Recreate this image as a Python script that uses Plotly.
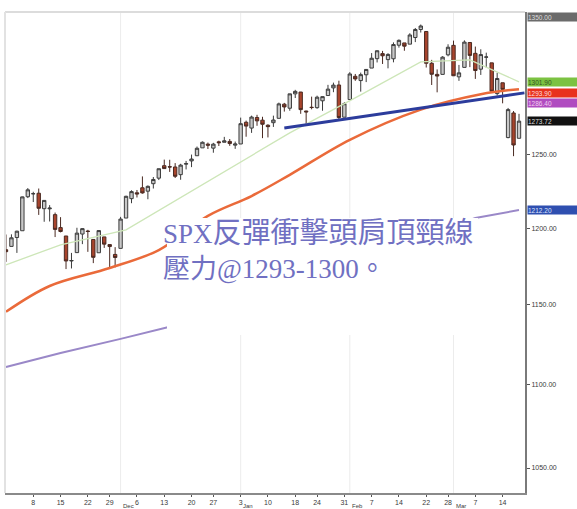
import math
import plotly.graph_objects as go

# ---------------- data ----------------
dates = [
    "2010-11-01", "2010-11-02", "2010-11-03", "2010-11-04", "2010-11-05",
    "2010-11-08", "2010-11-09", "2010-11-10", "2010-11-11", "2010-11-12",
    "2010-11-15", "2010-11-16", "2010-11-17", "2010-11-18", "2010-11-19",
    "2010-11-22", "2010-11-23", "2010-11-24", "2010-11-26", "2010-11-29",
    "2010-11-30", "2010-12-01", "2010-12-02", "2010-12-03", "2010-12-06",
    "2010-12-07", "2010-12-08", "2010-12-09", "2010-12-10", "2010-12-13",
    "2010-12-14", "2010-12-15", "2010-12-16", "2010-12-17", "2010-12-20",
    "2010-12-21", "2010-12-22", "2010-12-23", "2010-12-27", "2010-12-28",
    "2010-12-29", "2010-12-30", "2010-12-31", "2011-01-03", "2011-01-04",
    "2011-01-05", "2011-01-06", "2011-01-07", "2011-01-10", "2011-01-11",
    "2011-01-12", "2011-01-13", "2011-01-14", "2011-01-18", "2011-01-19",
    "2011-01-20", "2011-01-21", "2011-01-24", "2011-01-25", "2011-01-26",
    "2011-01-27", "2011-01-28", "2011-01-31", "2011-02-01", "2011-02-02",
    "2011-02-03", "2011-02-04", "2011-02-07", "2011-02-08", "2011-02-09",
    "2011-02-10", "2011-02-11", "2011-02-14", "2011-02-15", "2011-02-16",
    "2011-02-17", "2011-02-18", "2011-02-22", "2011-02-23", "2011-02-24",
    "2011-02-25", "2011-02-28", "2011-03-01", "2011-03-02", "2011-03-03",
    "2011-03-04", "2011-03-07", "2011-03-08", "2011-03-09", "2011-03-10",
    "2011-03-11", "2011-03-14", "2011-03-15", "2011-03-16", "2011-03-17",
]
opens = [
    1185.7, 1187.9, 1193.8, 1198.3, 1221.2,
    1223.2, 1223.6, 1213.1, 1213.0, 1209.1,
    1200.4, 1194.8, 1178.3, 1183.8, 1196.1,
    1198.1, 1192.5, 1183.7, 1194.2, 1189.1,
    1182.6, 1186.6, 1206.8, 1219.9, 1223.9,
    1227.3, 1225.0, 1230.1, 1233.9, 1242.5,
    1241.8, 1241.6, 1236.3, 1243.6, 1245.8,
    1249.4, 1254.9, 1257.5, 1254.7, 1259.1,
    1258.8, 1259.4, 1256.8, 1257.6, 1272.9,
    1268.8, 1276.3, 1274.4, 1270.8, 1272.6,
    1275.7, 1285.8, 1282.9, 1293.2, 1294.5,
    1280.9, 1283.6, 1283.3, 1288.2, 1292.0,
    1297.5, 1299.6, 1276.5, 1289.1, 1305.9,
    1302.8, 1307.0, 1311.9, 1318.8, 1322.5,
    1318.1, 1318.7, 1328.7, 1330.4, 1329.5,
    1334.4, 1340.4, 1338.9, 1315.4, 1307.3,
    1307.3, 1321.6, 1328.6, 1305.5, 1312.4,
    1330.7, 1322.7, 1311.1, 1319.9, 1315.7,
    1293.4, 1301.2, 1262.1, 1279.5, 1261.6,
]
highs = [
    1195.8, 1195.9, 1198.3, 1221.3, 1227.1,
    1224.6, 1226.8, 1218.8, 1215.5, 1210.5,
    1207.4, 1194.8, 1183.6, 1200.3, 1200.0,
    1198.9, 1192.5, 1198.6, 1194.2, 1189.1,
    1187.4, 1207.6, 1221.9, 1225.6, 1225.8,
    1235.1, 1228.9, 1234.7, 1240.4, 1246.7,
    1246.6, 1244.3, 1243.8, 1245.8, 1250.2,
    1255.8, 1259.4, 1258.6, 1258.4, 1259.9,
    1262.6, 1261.1, 1259.3, 1276.2, 1274.1,
    1277.6, 1278.2, 1276.8, 1271.5, 1277.6,
    1286.9, 1286.7, 1293.2, 1296.1, 1294.6,
    1281.1, 1291.2, 1291.9, 1291.3, 1299.7,
    1301.3, 1302.7, 1287.2, 1308.9, 1307.6,
    1308.6, 1311.0, 1322.9, 1324.9, 1324.5,
    1322.8, 1330.8, 1333.0, 1330.4, 1337.6,
    1341.5, 1344.1, 1338.9, 1317.9, 1310.9,
    1320.6, 1329.4, 1332.1, 1314.2, 1332.3,
    1331.1, 1327.7, 1325.7, 1323.2, 1315.7,
    1308.4, 1301.2, 1283.1, 1280.9, 1278.9,
]
lows = [
    1177.7, 1187.9, 1183.6, 1198.3, 1220.3,
    1217.6, 1208.9, 1204.3, 1204.5, 1194.1,
    1197.2, 1173.0, 1173.4, 1183.8, 1189.4,
    1184.3, 1176.9, 1183.7, 1186.9, 1173.6,
    1174.1, 1186.6, 1206.8, 1216.8, 1220.7,
    1223.3, 1219.5, 1226.8, 1232.6, 1240.3,
    1238.2, 1234.0, 1232.8, 1239.9, 1241.5,
    1249.4, 1254.9, 1254.1, 1251.5, 1256.2,
    1258.8, 1256.3, 1254.2, 1257.6, 1262.7,
    1265.4, 1270.4, 1261.7, 1262.2, 1269.6,
    1275.7, 1280.5, 1281.1, 1290.2, 1278.9,
    1271.3, 1282.1, 1282.5, 1281.1, 1292.0,
    1294.4, 1275.1, 1276.5, 1289.1, 1302.6,
    1294.8, 1301.7, 1311.9, 1316.0, 1314.9,
    1311.7, 1316.1, 1326.9, 1324.6, 1329.5,
    1331.0, 1338.1, 1312.3, 1299.6, 1294.3,
    1307.3, 1320.5, 1306.1, 1302.6, 1312.4,
    1312.6, 1304.0, 1306.9, 1312.3, 1294.2,
    1292.0, 1286.4, 1261.6, 1249.1, 1261.6,
]
closes = [
    1184.4, 1193.6, 1198.0, 1221.1, 1225.9,
    1223.3, 1213.4, 1218.7, 1213.5, 1199.2,
    1197.8, 1178.3, 1178.6, 1196.7, 1199.7,
    1197.8, 1180.7, 1198.4, 1189.4, 1187.8,
    1180.6, 1206.1, 1221.5, 1224.7, 1223.1,
    1223.8, 1228.3, 1233.0, 1240.4, 1240.5,
    1241.6, 1235.2, 1242.9, 1243.9, 1247.1,
    1254.6, 1258.8, 1256.8, 1257.5, 1258.5,
    1259.8, 1257.9, 1257.6, 1271.9, 1270.2,
    1276.6, 1273.9, 1271.5, 1269.8, 1274.5,
    1286.0, 1283.8, 1293.2, 1295.0, 1281.9,
    1280.3, 1283.4, 1290.8, 1291.2, 1296.6,
    1299.5, 1276.3, 1286.1, 1307.6, 1304.0,
    1307.1, 1310.9, 1319.1, 1324.6, 1320.9,
    1321.9, 1329.2, 1332.3, 1328.0, 1336.3,
    1340.4, 1343.0, 1315.4, 1307.4, 1306.1,
    1319.9, 1327.2, 1306.3, 1308.4, 1331.0,
    1321.2, 1310.1, 1321.8, 1320.0, 1295.1,
    1304.3, 1296.4, 1281.9, 1256.9, 1273.7,
]

ma20_dates = ["2010-11-01", "2010-11-15", "2010-12-02", "2010-12-22", "2011-01-14",
              "2011-02-03", "2011-02-18", "2011-03-04", "2011-03-17"]
ma20_values = [1175.8, 1188.9, 1198.9, 1229.3, 1265.4, 1292.5, 1316.4, 1317.9, 1301.9]

ma50_dates = ["2010-11-01", "2010-11-11", "2010-11-29", "2010-12-10", "2010-12-23",
              "2011-01-05", "2011-01-14", "2011-02-01", "2011-02-18", "2011-03-08",
              "2011-03-17"]
ma50_values = [1145.4, 1162.0, 1173.7, 1185.5, 1208.3, 1221.7, 1236.2, 1260.5,
               1281.9, 1292.9, 1296.6]

ma200_dates = ["2010-11-01", "2010-11-15", "2010-12-01", "2010-12-14", "2011-01-14",
               "2011-02-10", "2011-03-07", "2011-03-17"]
ma200_values = [1110.8, 1119.5, 1128.3, 1135.9, 1162.0, 1185.0, 1206.9, 1212.2]

neck_dates = ["2011-01-13", "2011-03-18"]
neck_values = [1268.9, 1293.9]

tag_values = [1350.0, 1301.9, 1293.9, 1286.4, 1273.72, 1212.2]
tag_colors = ["#6b6b6b", "#7cc242", "#e8321e", "#b04cc0", "#111111", "#2f4fb0"]
tag_text_colors = ["#dddddd", "#335522", "#ffdddd", "#f0d0f0", "#dddddd", "#dde4ff"]

y_tick_values = [1050, 1100, 1150, 1200, 1250]
y_tick_labels = ["1050.00", "1100.00", "1150.00", "1200.00", "1250.00"]

x_tick_dates = ["2010-11-08", "2010-11-15", "2010-11-22", "2010-11-29", "2010-12-06",
                "2010-12-13", "2010-12-20", "2010-12-27", "2011-01-03", "2011-01-10",
                "2011-01-18", "2011-01-24", "2011-01-31", "2011-02-07", "2011-02-14",
                "2011-02-22", "2011-02-28", "2011-03-07", "2011-03-14"]
x_tick_labels = ["8", "15", "22", "29", "6", "13", "20", "27", "3", "10",
                 "18", "24", "31", "7", "14", "22", "28", "7", "14"]

month_starts = ["2010-12-01", "2011-01-03", "2011-02-01", "2011-03-01"]
month_labels = ["Dec", "Jan", "Feb", "Mar"]

note_line1_latin = "SPX"
note_line1_cjk = "反彈衝擊頭肩頂頸線"
note_line2 = "壓力@1293-1300。"

# ---------------- figure ----------------
fig = go.Figure()

fig.add_trace(go.Scatter(x=ma200_dates, y=ma200_values, mode="lines",
                         line=dict(color="#9a88c8", width=2), hoverinfo="skip"))
fig.add_trace(go.Scatter(x=ma20_dates, y=ma20_values, mode="lines",
                         line=dict(color="#cde6b8", width=1.3), hoverinfo="skip"))
fig.add_trace(go.Scatter(x=ma50_dates, y=ma50_values, mode="lines", line_shape="spline",
                         line=dict(color="#ea6a3a", width=2.5), hoverinfo="skip"))

fig.add_trace(go.Candlestick(
    x=dates, open=opens, high=highs, low=lows, close=closes,
    increasing=dict(line=dict(color="#3c3c3c", width=1), fillcolor="#c8c8c8"),
    decreasing=dict(line=dict(color="#4a2a22", width=1), fillcolor="#a8442c"),
    whiskerwidth=0, hoverinfo="skip",
))

fig.add_trace(go.Scatter(x=neck_dates, y=neck_values, mode="lines",
                         line=dict(color="#2c3c9c", width=3), hoverinfo="skip"))

shapes = []
for d in month_starts:
    shapes.append(dict(type="line", xref="x", yref="paper", x0=d, x1=d, y0=0, y1=1,
                       line=dict(color="#ececec", width=1), layer="below"))
# white box behind the note
shapes.append(dict(type="rect", xref="paper", yref="paper",
                   x0=0.3115, x1=0.9096, y0=0.3285, y1=0.5717,
                   fillcolor="white", line=dict(width=0), layer="above"))
# top / left border
shapes.append(dict(type="line", xref="paper", yref="paper", x0=0, x1=1, y0=1, y1=1,
                   line=dict(color="#dcdcdc", width=2)))
shapes.append(dict(type="line", xref="paper", yref="paper", x0=0, x1=0, y0=0, y1=1,
                   line=dict(color="#e2e2e2", width=2)))

note_text = (note_line1_latin
             + '<span style="font-size:29px">' + note_line1_cjk + '</span>'
             + "<br>" + note_line2)
annotations = [dict(
    xref="paper", yref="paper", x=0.300, y=0.505, xanchor="left", yanchor="middle",
    text=note_text, showarrow=False, align="left",
    font=dict(family="Liberation Serif, Noto Sans CJK TC", size=27, color="#7070c2"),
)]
for v, c, tc in zip(tag_values, tag_colors, tag_text_colors):
    annotations.append(dict(
        xref="paper", yref="y", x=1.004, y=math.log10(v), xanchor="left", yanchor="middle",
        text=f"{v:.2f}", showarrow=False, bgcolor=c, width=50, height=8, align="left",
        font=dict(family="Liberation Sans", size=6.5, color=tc), borderpad=0,
    ))
for d, m in zip(month_starts, month_labels):
    annotations.append(dict(
        xref="x", yref="paper", x=d, y=-0.027, xanchor="left", yanchor="middle",
        text=m, showarrow=False,
        font=dict(family="Liberation Sans", size=6, color="#3a3a3a"),
    ))

categories = dates + [neck_dates[-1]]

fig.update_layout(
    width=577, height=509,
    margin=dict(l=5, r=52, t=12, b=16),
    paper_bgcolor="white", plot_bgcolor="white",
    showlegend=False, boxgap=0.12,
    shapes=shapes, annotations=annotations,
    xaxis=dict(
        type="category", categoryorder="array", categoryarray=categories,
        range=[-0.18, 95.1], rangeslider=dict(visible=False), automargin=False,
        showgrid=False, zeroline=False, showline=True, linecolor="#8a8a8a", linewidth=2,
        ticks="outside", ticklen=2, tickcolor="#555",
        tickvals=x_tick_dates, ticktext=x_tick_labels, tickangle=0,
        tickfont=dict(family="Liberation Sans", size=7, color="#3a3a3a"),
    ),
    yaxis=dict(
        type="log", side="right", automargin=False,
        range=[math.log10(1035.5), math.log10(1353.5)],
        showgrid=False, zeroline=False, showline=True, linecolor="#7a7a7a", linewidth=2,
        ticks="outside", ticklen=3, tickcolor="#555",
        tickvals=y_tick_values, ticktext=y_tick_labels,
        tickfont=dict(family="Liberation Sans", size=7, color="#3a3a3a"),
    ),
)

fig.write_html("out.html", config={"displayModeBar": False},
               post_script="document.body.style.margin='0px';document.body.style.overflow='hidden';")
